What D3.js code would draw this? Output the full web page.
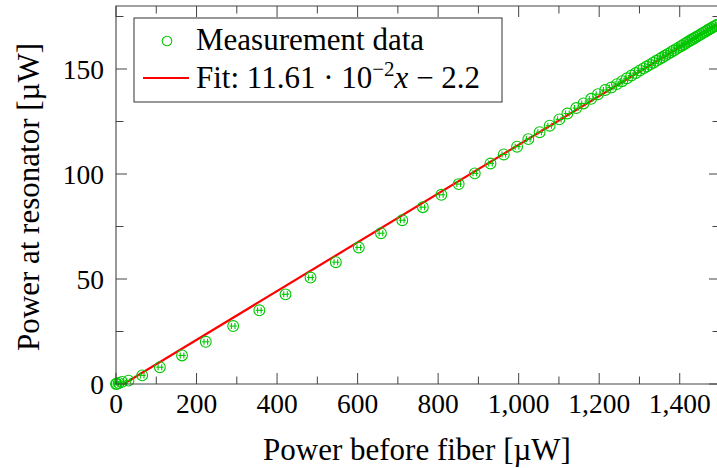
<!DOCTYPE html>
<html>
<head>
<meta charset="utf-8">
<script src="https://cdn.jsdelivr.net/npm/d3@7"></script>
<style>
  body { margin: 0; background: #fff; }
  svg text { font-family: "Liberation Serif", "DejaVu Serif", serif; fill: #000; }
</style>
</head>
<body>
<div id="chart"></div>
<script>
// Measured power values (µW)
const powerBeforeFiber = [0, 2, 7, 15, 31, 65, 109, 164, 223, 291, 356, 421, 483, 546, 603, 658, 711, 762,
  808, 851, 891, 930, 963, 996, 1024, 1052, 1077, 1101, 1121, 1143, 1161, 1180, 1197, 1215,
  1230, 1244, 1257, 1269, 1280, 1291, 1301, 1310, 1318, 1326, 1334, 1342, 1350, 1357, 1364, 1371,
  1378, 1385, 1392, 1399, 1405, 1411, 1417, 1423, 1428, 1433, 1438, 1443, 1448, 1453, 1458, 1463,
  1468, 1473, 1478, 1483, 1488, 1493];
const powerAtResonator = [0, 0.1, 0.5, 1.0, 1.6, 4.1, 8.0, 13.6, 20.1, 27.6, 35.1, 42.7, 50.7, 58.0, 65.0, 71.8, 78.0, 84.2,
  90.1, 95.2, 100.3, 105.0, 109.3, 113.0, 116.6, 119.9, 123.0, 126.0, 128.8, 131.4, 133.6, 135.8, 138.0, 140.0,
  141.2, 142.8, 144.2, 145.6, 146.9, 148.1, 149.3, 150.3, 151.2, 152.1, 153.0, 153.9, 154.8, 155.6, 156.4, 157.2,
  158.0, 158.8, 159.6, 160.4, 161.1, 161.8, 162.5, 163.2, 163.8, 164.3, 164.9, 165.5, 166.0, 166.6, 167.2, 167.7,
  168.3, 168.9, 169.4, 170.0, 170.5, 171.1];

// Linear fit parameters (from legend)
const fitSlope = 0.1161;
const fitIntercept = -2.2;
const fitRange = [0, 1500];

const xTicks = [0, 200, 400, 600, 800, 1000, 1200, 1400];
const xMinorTicks = [100, 300, 500, 700, 900, 1100, 1300, 1500];
const yTicks = [0, 50, 100, 150];
const yMinorTicks = [25, 75, 125, 175];

const config = {
  parentElement: '#chart',
  containerWidth: 717,
  containerHeight: 468,
  margin: { top: 6, left: 116 },
  width: 604,   // right edge falls just outside the picture
  height: 378
};

const data = powerBeforeFiber.map((x, i) => ({ x: x, y: powerAtResonator[i] }));
const green = '#00c800';

const svg = d3.select(config.parentElement).append('svg')
  .attr('width', config.containerWidth)
  .attr('height', config.containerHeight);

const chart = svg.append('g')
  .attr('transform', `translate(${config.margin.left},${config.margin.top})`);

const xScale = d3.scaleLinear().domain([0, 1500]).range([0, config.width]);
const yScale = d3.scaleLinear().domain([0, 180]).range([config.height, 0]);

// Clip marks to the axis box
svg.append('defs').append('clipPath').attr('id', 'plot-clip')
  .append('rect').attr('width', config.width).attr('height', config.height);

// Ticks pointing inwards on all four sides
const majorLen = 11, minorLen = 7.5;
const tickGroup = chart.append('g').attr('stroke', '#444').attr('stroke-width', 1);
function xTickMarks(vals, len) {
  vals.forEach(v => {
    const x = xScale(v);
    tickGroup.append('line').attr('x1', x).attr('x2', x).attr('y1', config.height).attr('y2', config.height - len);
    tickGroup.append('line').attr('x1', x).attr('x2', x).attr('y1', 0).attr('y2', len);
  });
}
function yTickMarks(vals, len) {
  vals.forEach(v => {
    const y = yScale(v);
    tickGroup.append('line').attr('x1', 0).attr('x2', len).attr('y1', y).attr('y2', y);
    tickGroup.append('line').attr('x1', config.width).attr('x2', config.width - len).attr('y1', y).attr('y2', y);
  });
}
xTickMarks(xTicks, majorLen);
xTickMarks(xMinorTicks, minorLen);
yTickMarks(yTicks, majorLen);
yTickMarks(yMinorTicks, minorLen);

// Fit line
const line = d3.line().x(d => xScale(d)).y(d => yScale(fitSlope * d + fitIntercept));
const plotArea = chart.append('g').attr('clip-path', 'url(#plot-clip)');
plotArea.append('path')
  .datum(fitRange)
  .attr('d', line)
  .attr('fill', 'none')
  .attr('stroke', '#ff0000')
  .attr('stroke-width', 2.2);

// Measurement markers with small error bars
const marks = chart.append('g')
  .selectAll('.point')
  .data(data)
  .join('g')
  .attr('class', 'point')
  .attr('transform', d => `translate(${xScale(d.x)},${yScale(d.y)})`)
  .attr('stroke', green)
  .attr('stroke-width', 1.1)
  .attr('fill', 'none');
marks.append('circle').attr('r', 5.4);
marks.append('line').attr('x1', -3.6).attr('x2', 3.6).attr('y1', 0).attr('y2', 0);
marks.append('line').attr('x1', -1.8).attr('x2', -1.8).attr('y1', -3).attr('y2', 3);
marks.append('line').attr('x1', 1.8).attr('x2', 1.8).attr('y1', -3).attr('y2', 3);

// Axis frame
chart.append('path')
  .attr('d', `M0,0V${config.height}H${config.width}V0Z`)
  .attr('fill', 'none')
  .attr('stroke', '#444')
  .attr('stroke-width', 1.1);

// Tick labels
const fmt = d3.format(',');
chart.append('g').selectAll('text')
  .data(xTicks)
  .join('text')
  .attr('x', d => xScale(d))
  .attr('y', config.height + 29)
  .attr('text-anchor', 'middle')
  .attr('font-size', 27.5)
  .text(d => fmt(d));

chart.append('g').selectAll('text')
  .data(yTicks)
  .join('text')
  .attr('x', -12)
  .attr('y', d => yScale(d) + 9.5)
  .attr('text-anchor', 'end')
  .attr('font-size', 27.5)
  .text(d => d);

// Axis labels
svg.append('text')
  .attr('x', config.margin.left + config.width / 2 - 1)
  .attr('y', 460)
  .attr('text-anchor', 'middle')
  .attr('font-size', 31)
  .text('Power before fiber [µW]');

svg.append('text')
  .attr('transform', `translate(39,${config.margin.top + config.height / 2 + 2}) rotate(-90)`)
  .attr('text-anchor', 'middle')
  .attr('font-size', 31)
  .text('Power at resonator [µW]');

// Legend
const legend = svg.append('g').attr('transform', 'translate(134,18)');
legend.append('rect')
  .attr('width', 368).attr('height', 84)
  .attr('fill', '#fff').attr('stroke', '#444').attr('stroke-width', 1.1);
legend.append('circle')
  .attr('cx', 33).attr('cy', 23).attr('r', 4.8)
  .attr('fill', 'none').attr('stroke', green).attr('stroke-width', 1.1);
legend.append('line')
  .attr('x1', 9).attr('x2', 55).attr('y1', 60).attr('y2', 60)
  .attr('stroke', '#ff0000').attr('stroke-width', 2.2);
legend.append('text')
  .attr('x', 62).attr('y', 32).attr('font-size', 31)
  .text('Measurement data');
const fitLabel = legend.append('text')
  .attr('x', 62).attr('y', 69.5).attr('font-size', 31);
fitLabel.append('tspan').text(`Fit: ${fitSlope * 100} · 10`);
fitLabel.append('tspan').attr('dy', -12).attr('font-size', 21).text('−2');
fitLabel.append('tspan').attr('dy', 12).attr('font-style', 'italic').text('x');
fitLabel.append('tspan').text(` − ${Math.abs(fitIntercept)}`);
</script>
</body>
</html>
